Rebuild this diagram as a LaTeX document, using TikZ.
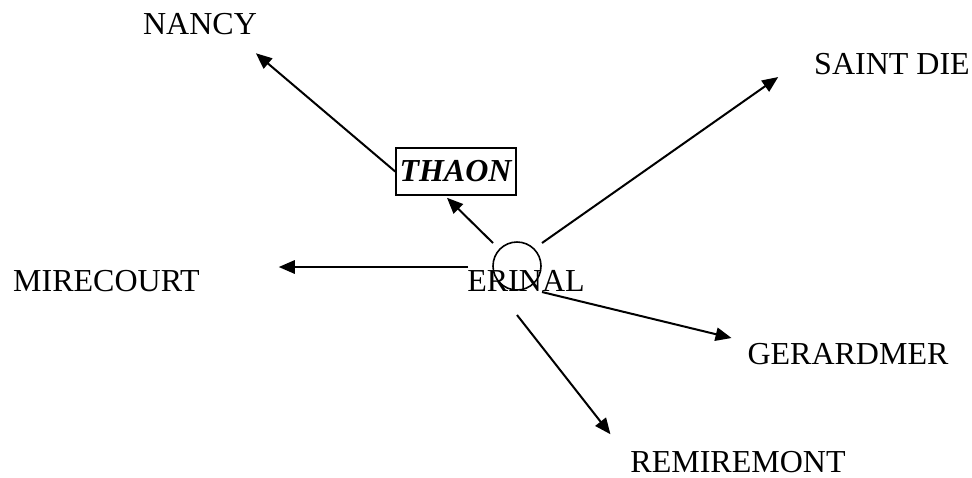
\documentclass[tikz,border=0pt]{standalone}
\usepackage{fontspec}
\setmainfont{Liberation Serif}
\usetikzlibrary{arrows.meta,calc}

\begin{document}
\begin{tikzpicture}[x=0.375pt,y=-0.375pt,line width=0.75pt,
  town/.style={inner sep=0pt,font=\fontsize{12}{14}\selectfont},
  road/.style={-{Triangle[length=6pt,width=5pt]}}]
\useasboundingbox (0,0) rectangle (972,477);
\node[town] (nancy) at (200,24.5) {NANCY};
\node[town] (saint) at (892,64) {SAINT DIE};
\node[town] (mirecourt) at (106.5,281) {MIRECOURT};
\node[town] (erinal) at (526,281) {ERINAL};
\node[town] (gerardmer) at (848,354) {GERARDMER};
\node[town] (remiremont) at (738,462) {REMIREMONT};
\node[town,draw,line width=0.6pt,minimum width=45pt,minimum height=17.6pt] (thaon) at (456,171.5) {\textbf{\textit{THAON}}};
\node[draw,circle,line width=0.6pt,minimum size=18pt,inner sep=0pt] (ring) at (517,266) {};
\draw[road] (thaon.west) -- ($(nancy.south east)+(-2,17)$);
\draw[road] ($(ring.center)+(-24,-23)$) -- ($(thaon.south)+(-9,2)$);
\draw[road] ($(ring.center)+(25,-23)$) -- ($(saint.west)+(-35,13)$);
\draw[road] ($(ring.center)+(-49,1)$) -- ($(mirecourt.east)+(78,-14)$);
\draw[road] ($(ring.center)+(25,26)$) -- ($(gerardmer.west)+(-15,-16)$);
\draw[road] ($(ring.center)+(0,49)$) -- ($(remiremont.north west)+(-19,-16)$);
\end{tikzpicture}
\end{document}
